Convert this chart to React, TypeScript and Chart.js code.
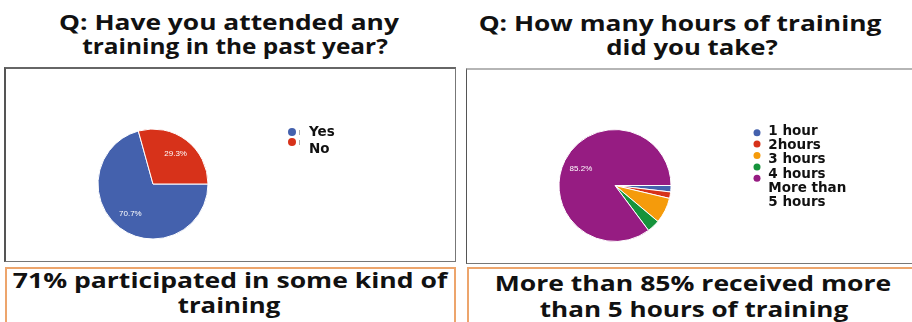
import React, { useEffect, useLayoutEffect, useRef, useState } from "react";
import { Chart, registerables } from "chart.js";

Chart.register(...registerables);

// ---- data ----
const attendLabels = ["Yes", "No"];
const attendValues = [70.7, 29.3];
const attendColors = ["#4461ad", "#d7321a"];

const hoursLabels = ["1 hour", "2hours", "3 hours", "4 hours", "More than 5 hours"];
const hoursValues = [1.85, 1.85, 7.4, 3.7, 85.2];
const hoursColors = ["#4461ad", "#d7321a", "#f59b0b", "#15933b", "#961c82"];

const leftTitle = ["Q: Have you attended any", "training in the past year?"];
const rightTitle = ["Q: How many hours of training", "did you take?"];
const leftNote = ["71% participated in some kind of", "training"];
const rightNote = ["More than 85% received more", "than 5 hours of training"];

// ---- plugins ----
const sliceLabels = {
  id: "sliceLabels",
  afterDatasetsDraw(chart: any) {
    const meta = chart.getDatasetMeta(0);
    const data: number[] = chart.data.datasets[0].data;
    const total = data.reduce((a, b) => a + b, 0);
    const ctx = chart.ctx;
    ctx.save();
    ctx.font = '8px "Liberation Sans", Arial, sans-serif';
    ctx.fillStyle = "#ffffff";
    ctx.textAlign = "center";
    ctx.textBaseline = "middle";
    meta.data.forEach((arc: any, i: number) => {
      const pct = (data[i] / total) * 100;
      if (pct < 10) return;
      const p = arc.getProps(["x", "y", "startAngle", "endAngle", "outerRadius"], true);
      const mid = (p.startAngle + p.endAngle) / 2;
      const r = p.outerRadius * 0.68;
      ctx.fillText(pct.toFixed(1) + "%", p.x + Math.cos(mid) * r, p.y + Math.sin(mid) * r);
    });
    ctx.restore();
  },
};

const dotLegend = {
  id: "dotLegend",
  afterDraw(chart: any, _args: any, o: any) {
    const ctx = chart.ctx;
    const labels: string[] = chart.data.labels;
    const colors: string[] = chart.data.datasets[0].backgroundColor;
    ctx.save();
    ctx.font = `bold ${o.fontSize}px "DejaVu Sans", Verdana, sans-serif`;
    ctx.textAlign = "left";
    ctx.textBaseline = "alphabetic";
    let line = 0;
    labels.forEach((lab, i) => {
      const dy = o.dotY + i * o.dotStep;
      ctx.fillStyle = colors[i];
      ctx.beginPath();
      ctx.arc(o.dotX, dy, o.dotR, 0, Math.PI * 2);
      ctx.fill();
      if (o.ticks) {
        ctx.fillStyle = "#b0b0b0";
        ctx.fillRect(o.dotX + 7, dy - 2, 1, 5);
      }
      const words = lab.split(" ");
      const lines: string[] = [];
      let cur = "";
      words.forEach((w) => {
        const t = cur ? cur + " " + w : w;
        if (cur && ctx.measureText(t).width > o.maxWidth) {
          lines.push(cur);
          cur = w;
        } else cur = t;
      });
      if (cur) lines.push(cur);
      ctx.fillStyle = "#111111";
      lines.forEach((ln) => {
        ctx.fillText(ln, o.textX, o.textY + line * o.textStep);
        line++;
      });
    });
    ctx.restore();
  },
};

function PieChart(props: {
  labels: string[];
  values: number[];
  colors: string[];
  w: number;
  h: number;
  cx: number;
  cy: number;
  r: number;
  legend: any;
}) {
  const ref = useRef<HTMLCanvasElement>(null);
  useEffect(() => {
    const { w, h, cx, cy, r } = props;
    const chart = new Chart(ref.current as HTMLCanvasElement, {
      type: "pie",
      data: {
        labels: props.labels,
        datasets: [
          {
            data: props.values,
            backgroundColor: props.colors,
            borderColor: "#ffffff",
            borderWidth: 1,
            radius: r,
          } as any,
        ],
      },
      options: {
        responsive: false,
        animation: false,
        devicePixelRatio: 1,
        rotation: 90,
        layout: {
          padding: { left: cx - r, right: w - (cx + r), top: cy - r, bottom: h - (cy + r) },
        },
        plugins: {
          legend: { display: false },
          tooltip: { enabled: false },
          dotLegend: props.legend,
        } as any,
      },
      plugins: [sliceLabels, dotLegend],
    });
    return () => chart.destroy();
  }, []);
  return <canvas ref={ref} width={props.w} height={props.h} style={{ width: props.w, height: props.h }} />;
}

function FitText(props: { text: string; cx: number; baseline: number; width: number; size: number }) {
  const ref = useRef<HTMLDivElement>(null);
  const [s, setS] = useState(1);
  useLayoutEffect(() => {
    const el = ref.current;
    if (el) setS(props.width / el.offsetWidth);
  }, []);
  return (
    <div
      ref={ref}
      style={{
        position: "absolute",
        left: props.cx,
        top: props.baseline - 0.888 * props.size,
        width: "max-content",
        whiteSpace: "nowrap",
        font: `700 ${props.size}px "Open Sans", sans-serif`,
        lineHeight: `${props.size}px`,
        color: "#111",
        transformOrigin: "50% 50%",
        transform: `translateX(-50%) scaleX(${s})`,
      }}
    >
      {props.text}
    </div>
  );
}

export default function App() {
  return (
    <div
      style={{
        position: "fixed",
        left: 0,
        top: 0,
        width: 912,
        height: 322,
        background: "#fff",
        overflow: "hidden",
      }}
    >
      {/* titles */}
      <FitText text={leftTitle[0]} cx={229} baseline={29.5} width={340} size={22} />
      <FitText text={leftTitle[1]} cx={235} baseline={54} width={306} size={22} />
      <FitText text={rightTitle[0]} cx={679.5} baseline={30.5} width={403} size={22} />
      <FitText text={rightTitle[1]} cx={692} baseline={55} width={172} size={22} />

      {/* chart boxes */}
      <div
        style={{
          position: "absolute",
          left: 4,
          top: 67,
          width: 452,
          height: 195,
          boxSizing: "border-box",
          borderLeft: "2px solid #555",
          borderTop: "2px solid #666",
          borderRight: "1px solid #777",
          borderBottom: "1px solid #777",
        }}
      />
      <div
        style={{
          position: "absolute",
          left: 466,
          top: 68,
          width: 460,
          height: 196,
          boxSizing: "border-box",
          borderLeft: "1px solid #555",
          borderTop: "2px solid #b5b5b5",
          borderBottom: "1px solid #777",
        }}
      />
      <div style={{ position: "absolute", left: 6, top: 70 }}>
        <PieChart
          labels={attendLabels}
          values={attendValues}
          colors={attendColors}
          w={448}
          h={189}
          cx={147}
          cy={114}
          r={55}
          legend={{
            dotX: 286,
            dotY: 62,
            dotStep: 10,
            dotR: 4,
            ticks: true,
            textX: 303,
            textY: 66,
            textStep: 17,
            fontSize: 13.5,
            maxWidth: 80,
          }}
        />
      </div>
      <div style={{ position: "absolute", left: 468, top: 71 }}>
        <PieChart
          labels={hoursLabels}
          values={hoursValues}
          colors={hoursColors}
          w={442}
          h={190}
          cx={147}
          cy={114.5}
          r={56}
          legend={{
            dotX: 289,
            dotY: 61.7,
            dotStep: 11.4,
            dotR: 3.5,
            ticks: false,
            textX: 300.3,
            textY: 64,
            textStep: 14.2,
            fontSize: 13.5,
            maxWidth: 80,
          }}
        />
      </div>

      {/* note boxes */}
      <div
        style={{
          position: "absolute",
          left: 5,
          top: 267,
          width: 451,
          height: 70,
          boxSizing: "border-box",
          border: "2px solid #eda56c",
        }}
      />
      <div
        style={{
          position: "absolute",
          left: 467,
          top: 267,
          width: 460,
          height: 70,
          boxSizing: "border-box",
          border: "2px solid #eda56c",
        }}
      />
      <FitText text={leftNote[0]} cx={229.5} baseline={288.5} width={435} size={21} />
      <FitText text={leftNote[1]} cx={228.5} baseline={314} width={103} size={21} />
      <FitText text={rightNote[0]} cx={692.5} baseline={292} width={397} size={21} />
      <FitText text={rightNote[1]} cx={693.5} baseline={318} width={309} size={21} />
    </div>
  );
}
